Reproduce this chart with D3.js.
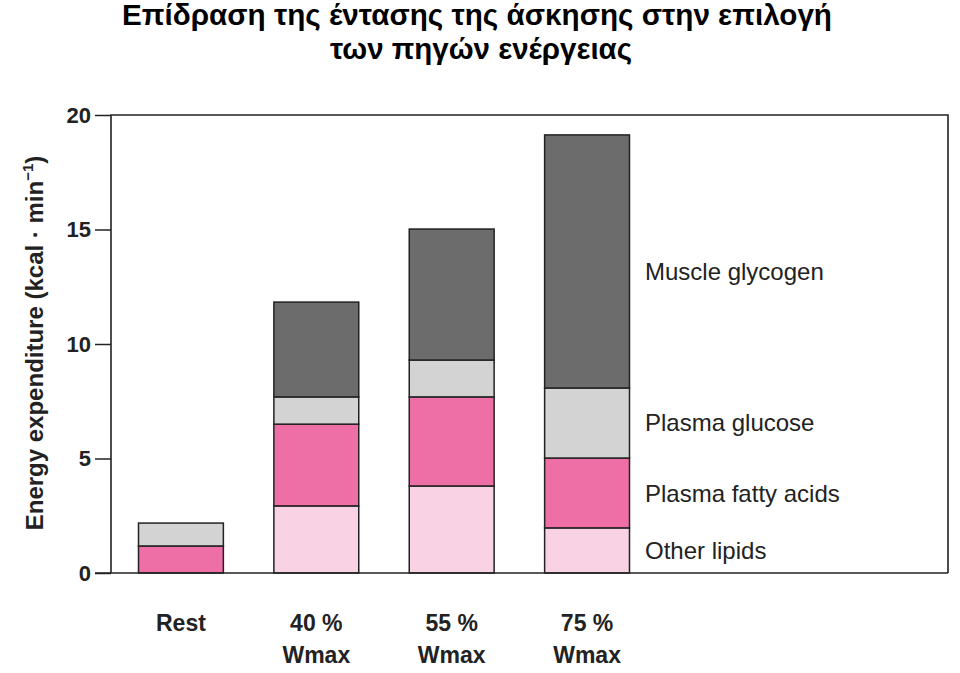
<!DOCTYPE html>
<html><head><meta charset="utf-8">
<script src="https://cdn.jsdelivr.net/npm/d3@7"></script>
<style>body{margin:0;background:#fff}svg{display:block}</style>
</head><body>
<script>
const categories = ["Rest", "40 %|Wmax", "55 %|Wmax", "75 %|Wmax"];
const seriesNames = ["Other lipids", "Plasma fatty acids", "Plasma glucose", "Muscle glycogen"];
const otherLipids = [0, 2.93, 3.8, 1.97];
const plasmaFattyAcids = [1.18, 3.57, 3.89, 3.05];
const plasmaGlucose = [1.0, 1.19, 1.61, 3.06];
const muscleGlycogen = [0, 4.14, 5.72, 11.05];
const yTicks = [0, 5, 10, 15, 20];
const colors = ["#f9d2e3", "#ee6fa6", "#d3d3d3", "#6c6c6c"];
const legendAt = [1.0, 3.5, 6.6, 13.2];

const W = 960, H = 673;
const svg = d3.select("body").append("svg").attr("width", W).attr("height", H);
const pLeft = 111, pRight = 948, pTop = 115, pBottom = 573;

const y = d3.scaleLinear().domain([0, 20]).range([pBottom, pTop]);
const x = d3.scaleBand().domain(categories).range([113.25, 654.75]).paddingInner(0.373).paddingOuter(0.1865);

const rows = categories.map((c, i) => ({cat: c, "Other lipids": otherLipids[i], "Plasma fatty acids": plasmaFattyAcids[i], "Plasma glucose": plasmaGlucose[i], "Muscle glycogen": muscleGlycogen[i]}));
const stacked = d3.stack().keys(seriesNames)(rows);

// title
const title = svg.append("g")
  .attr("font-family", "'Liberation Sans', Arial, sans-serif").attr("font-weight", "bold")
  .attr("font-size", 29).attr("fill", "#000");
title.append("text").attr("x", 122).attr("y", 25).attr("textLength", 710).attr("lengthAdjust", "spacingAndGlyphs")
  .text("Επίδραση της έντασης της άσκησης στην επιλογή");
title.append("text").attr("x", 330).attr("y", 59).attr("textLength", 302).attr("lengthAdjust", "spacingAndGlyphs")
  .text("των πηγών ενέργειας");

// bars
stacked.forEach((s, si) => {
  svg.append("g").selectAll("rect").data(s.filter(d => d[1] - d[0] > 0)).join("rect")
    .attr("x", d => x(d.data.cat)).attr("width", x.bandwidth())
    .attr("y", d => y(d[1])).attr("height", d => y(d[0]) - y(d[1]))
    .attr("fill", colors[si]).attr("stroke", "#222").attr("stroke-width", 1.5);
});

// frame
svg.append("path").attr("d", `M${pLeft},${pBottom}V${pTop}H${pRight}V${pBottom}`)
  .attr("fill", "none").attr("stroke", "#222").attr("stroke-width", 1.6);
svg.append("line").attr("x1", 95).attr("x2", pRight).attr("y1", pBottom).attr("y2", pBottom)
  .attr("stroke", "#222").attr("stroke-width", 1.6);

// y axis
const yAxis = svg.append("g").attr("transform", `translate(${pLeft},0)`)
  .call(d3.axisLeft(y).tickValues(yTicks).tickSize(16).tickPadding(4).tickFormat(d3.format("d")));
yAxis.select(".domain").remove();
yAxis.selectAll(".tick line").attr("stroke", "#222").attr("stroke-width", 1.5);
yAxis.selectAll(".tick text").attr("font-family", "'Liberation Sans', Arial, sans-serif")
  .attr("font-size", 22).attr("font-weight", "bold").attr("fill", "#222");

// y title
const yt = svg.append("text").attr("transform", "translate(43,343) rotate(-90)").attr("text-anchor", "middle")
  .attr("font-family", "'Liberation Sans', Arial, sans-serif").attr("font-size", 24).attr("font-weight", "bold").attr("fill", "#222");
yt.append("tspan").text("Energy expenditure (kcal · min");
yt.append("tspan").attr("dy", -10).attr("font-size", 15).text("−1");
yt.append("tspan").attr("dy", 10).text(")");

// x labels
const xl = svg.append("g");
categories.forEach(c => {
  const parts = c.split("|");
  const t = xl.append("text").attr("text-anchor", "middle")
    .attr("font-family", "'Liberation Sans', Arial, sans-serif").attr("font-size", 23).attr("font-weight", "bold").attr("fill", "#222");
  parts.forEach((p, i) => t.append("tspan").attr("x", x(c) + x.bandwidth() / 2).attr("y", 631 + i * 32).text(p));
});

// legend labels
svg.append("g").selectAll("text").data(seriesNames).join("text")
  .attr("x", 645).attr("y", (d, i) => y(legendAt[i]) + 9)
  .attr("font-family", "'Liberation Sans', Arial, sans-serif").attr("font-size", 24).attr("fill", "#222")
  .text(d => d);
</script>
</body></html>
